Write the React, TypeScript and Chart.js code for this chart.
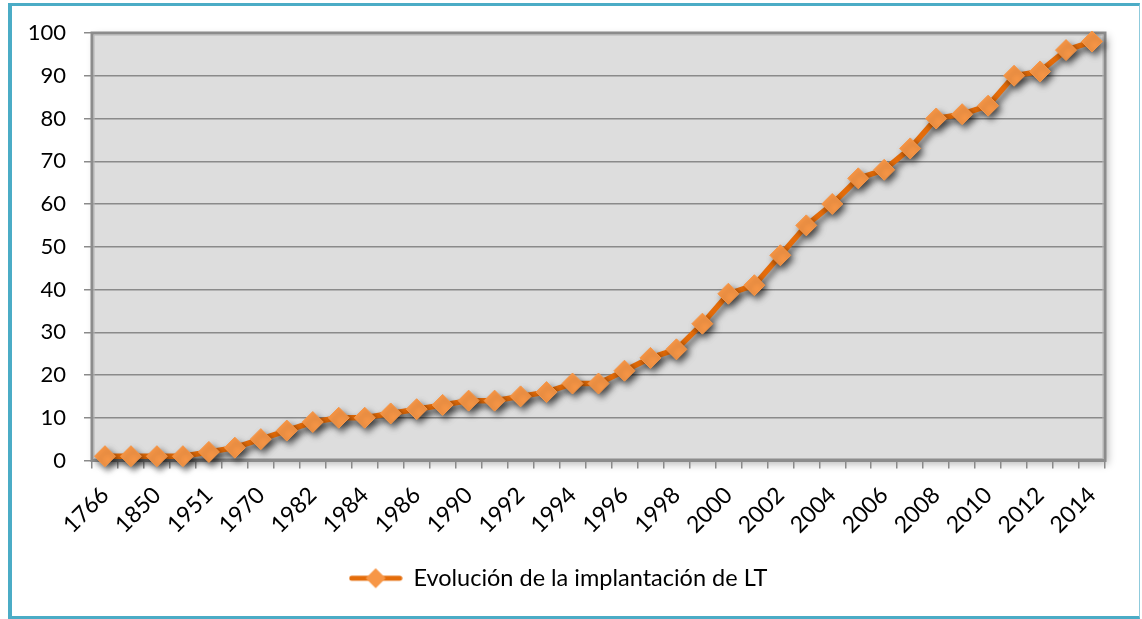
import React, { useEffect, useRef } from 'react';
import { Chart, registerables } from 'chart.js';

Chart.register(...registerables);

const categories = [
  '1766', '1800', '1850', '1900', '1951', '1960', '1970', '1975', '1982', '1983',
  '1984', '1985', '1986', '1988', '1990', '1991', '1992', '1993', '1994', '1995',
  '1996', '1997', '1998', '1999', '2000', '2001', '2002', '2003', '2004', '2005',
  '2006', '2007', '2008', '2009', '2010', '2011', '2012', '2013', '2014',
];

const values = [
  1, 1, 1, 1, 2, 3, 5, 7, 9, 10,
  10, 11, 12, 13, 14, 14, 15, 16, 18, 18,
  21, 24, 26, 32, 39, 41, 48, 55, 60, 66,
  68, 73, 80, 81, 83, 90, 91, 96, 98,
];

const seriesLabel = 'Evolución de la implantación de LT';
const yTicks = [0, 10, 20, 30, 40, 50, 60, 70, 80, 90, 100];

const FONT = 'Lato, "Open Sans", "DejaVu Sans", sans-serif';
const LINE_COLOR = '#E46C0A';
const MARKER_COLOR = '#F79646';
const GRID_COLOR = '#8a8a8a';

function makeLegendIcon(): HTMLCanvasElement {
  const c = document.createElement('canvas');
  c.width = 54;
  c.height = 22;
  const g = c.getContext('2d')!;
  g.strokeStyle = LINE_COLOR;
  g.lineWidth = 5;
  g.lineCap = 'round';
  g.beginPath();
  g.moveTo(3, 11);
  g.lineTo(51, 11);
  g.stroke();
  g.fillStyle = MARKER_COLOR;
  g.beginPath();
  g.moveTo(27, 1);
  g.lineTo(37, 11);
  g.lineTo(27, 21);
  g.lineTo(17, 11);
  g.closePath();
  g.fill();
  return c;
}

const plotDecor = {
  id: 'plotDecor',
  beforeDraw(chart: any) {
    const { ctx, chartArea: a } = chart;
    ctx.save();
    ctx.shadowColor = 'rgba(0,0,0,0.28)';
    ctx.shadowBlur = 8;
    ctx.shadowOffsetX = 3;
    ctx.shadowOffsetY = 3;
    ctx.fillStyle = '#dddddd';
    ctx.fillRect(a.left, a.top, a.width, a.height);
    ctx.restore();
  },
  beforeDatasetsDraw(chart: any) {
    const { ctx, chartArea: a } = chart;
    ctx.save();
    ctx.strokeStyle = '#8c8c8c';
    ctx.lineWidth = 3;
    ctx.strokeRect(a.left, a.top, a.width, a.height);
    ctx.strokeStyle = '#b4b4b4';
    ctx.lineWidth = 1;
    ctx.strokeRect(a.left + 2, a.top + 2, a.width - 4, a.height - 4);
    ctx.restore();
    ctx.save();
    ctx.shadowColor = 'rgba(0,0,0,0.55)';
    ctx.shadowBlur = 6;
    ctx.shadowOffsetX = 3;
    ctx.shadowOffsetY = 4;
  },
  afterDatasetsDraw(chart: any) {
    chart.ctx.restore();
  },
};

export default function App() {
  const canvasRef = useRef<HTMLCanvasElement | null>(null);

  useEffect(() => {
    if (!canvasRef.current) return;
    const icon = makeLegendIcon();
    const chart = new Chart(canvasRef.current, {
      type: 'line',
      data: {
        labels: categories,
        datasets: [
          {
            label: seriesLabel,
            data: values,
            borderColor: LINE_COLOR,
            backgroundColor: MARKER_COLOR,
            borderWidth: 5.5,
            pointStyle: 'rectRot',
            pointRadius: 10.5,
            pointBackgroundColor: MARKER_COLOR,
            pointBorderColor: MARKER_COLOR,
            pointBorderWidth: 1,
            tension: 0,
            clip: false,
          } as any,
        ],
      },
      options: {
        responsive: false,
        animation: false,
        events: [],
        layout: { padding: { left: 12, top: 33, right: 37, bottom: 19 } },
        plugins: {
          tooltip: { enabled: false },
          legend: {
            position: 'bottom',
            labels: {
              color: '#000',
              font: { family: FONT, size: 23.5 },
              usePointStyle: true,
              pointStyleWidth: 52,
              padding: 10,
              generateLabels: (ch: any) =>
                ch.data.datasets.map((ds: any, i: number) => ({
                  text: ds.label,
                  pointStyle: icon,
                  fillStyle: MARKER_COLOR,
                  strokeStyle: LINE_COLOR,
                  lineWidth: 0,
                  hidden: false,
                  datasetIndex: i,
                  fontColor: '#000',
                })),
            },
          },
        },
        scales: {
          x: {
            type: 'category',
            offset: true,
            afterFit: (s: any) => {
              s.height = 96;
            },
            grid: {
              offset: true,
              drawOnChartArea: false,
              drawTicks: true,
              tickLength: 8,
              color: GRID_COLOR,
              tickColor: GRID_COLOR,
              lineWidth: 1.5,
            },
            border: { display: false },
            ticks: {
              autoSkip: false,
              minRotation: 45,
              maxRotation: 45,
              padding: 13,
              color: '#000',
              font: { family: FONT, size: 23 },
              callback: (_v: any, i: number) => (i % 2 === 0 ? categories[i] : ''),
            },
          },
          y: {
            min: yTicks[0],
            max: yTicks[yTicks.length - 1],
            afterFit: (s: any) => {
              s.width = 80;
            },
            afterBuildTicks: (s: any) => {
              s.ticks = yTicks.map((v) => ({ value: v }));
            },
            grid: {
              color: GRID_COLOR,
              tickColor: GRID_COLOR,
              lineWidth: 1.5,
              drawTicks: true,
              tickLength: 8,
            },
            border: { display: false },
            ticks: {
              padding: 18,
              color: '#000',
              font: { family: FONT, size: 22 },
            },
          },
        },
      },
      plugins: [plotDecor],
    });
    return () => chart.destroy();
  }, []);

  return (
    <div style={{ position: 'absolute', left: 0, top: 0, width: 1142, height: 619, background: '#fff', overflow: 'hidden' }}>
      <div
        style={{
          position: 'absolute',
          left: 8,
          top: 3,
          width: 1132,
          height: 616,
          boxSizing: 'border-box',
          borderLeft: '4px solid #4BACC6',
          borderTop: '3px solid #4BACC6',
          borderBottom: '3px solid #4BACC6',
          borderRight: '1px solid #8fcbdc',
        }}
      />
      <canvas
        ref={canvasRef}
        width={1142}
        height={619}
        style={{ position: 'absolute', left: 0, top: 0, width: 1142, height: 619 }}
      />
    </div>
  );
}
